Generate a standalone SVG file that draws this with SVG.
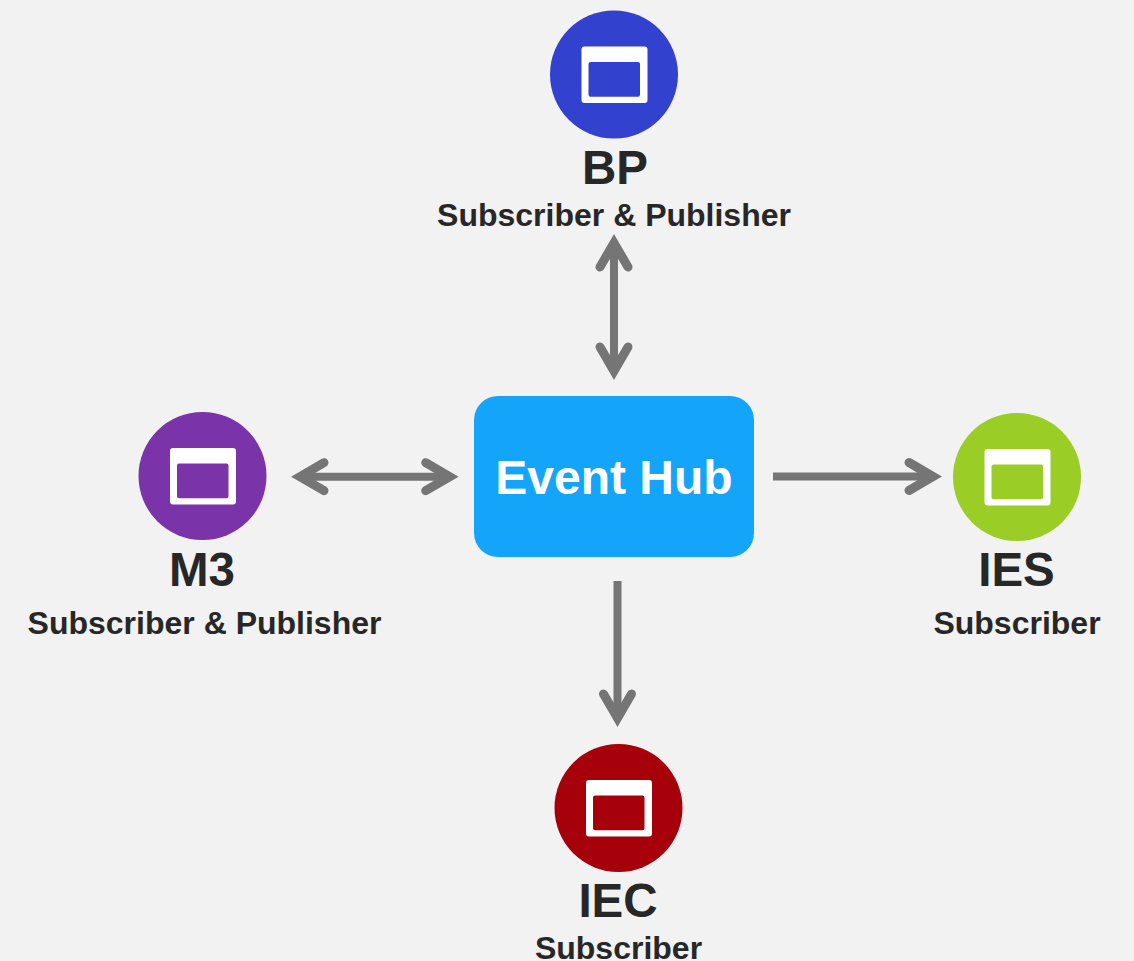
<svg xmlns="http://www.w3.org/2000/svg" width="1134" height="961" viewBox="0 0 1134 961">
<style>
text{font-family:"Liberation Sans",Arial,sans-serif;font-weight:700;text-anchor:middle;fill:#272727}
.t{font-size:47.500px}
.h{font-size:48px}
.s{font-size:32px}
.w{fill:#fff}
.c{fill:none;stroke:#757575;stroke-width:8;stroke-linejoin:miter}
</style>
<defs>
<marker id="head" markerUnits="userSpaceOnUse" markerWidth="50" markerHeight="50" refX="30" refY="25" orient="auto-start-reverse" overflow="visible">
<path d="M6,11 L30,25 L6,39" fill="none" stroke="#757575" stroke-width="9" stroke-linecap="round" stroke-miterlimit="10"/>
</marker>
<g id="icon">
<path fill-rule="evenodd" fill="#fff" d="M-29.500,-28h60a3,3 0 0 1 3,3v50.500a3,3 0 0 1-3,3h-60a3,3 0 0 1-3-3v-50.500a3,3 0 0 1 3-3zM-23.500,-12.500a2,2 0 0 0-2,2v30.700a2,2 0 0 0 2,2h47.500a2,2 0 0 0 2-2v-30.700a2,2 0 0 0-2-2z"/>
</g>
</defs>
<rect width="1134" height="961" fill="#f2f2f2"/>
<g id="connectors">
<path class="c" d="M614,243V371" marker-start="url(#head)" marker-end="url(#head)"/>
<path class="c" d="M300,476.700H449.700" marker-start="url(#head)" marker-end="url(#head)"/>
<path class="c" d="M773,476.500H933" marker-end="url(#head)"/>
<path class="c" d="M617.500,581V718" marker-end="url(#head)"/>
</g>
<g id="hub">
<rect x="474" y="396" width="280" height="161" rx="24" fill="#14a5fa"/>
<text class="h w" x="614" y="494">Event Hub</text>
</g>
<g id="bp">
<circle cx="614" cy="74.500" r="64" fill="#3341cf"/>
<use href="#icon" x="614" y="74.500"/>
<text class="t" x="615" y="184">BP</text>
<text class="s" x="614" y="226">Subscriber &amp; Publisher</text>
</g>
<g id="m3">
<circle cx="202.500" cy="476" r="64" fill="#7a33a8"/>
<use href="#icon" x="202.500" y="476"/>
<text class="t" x="202" y="586">M3</text>
<text class="s" x="204.500" y="634">Subscriber &amp; Publisher</text>
</g>
<g id="ies">
<circle cx="1017" cy="477" r="64" fill="#9acd26"/>
<use href="#icon" x="1017" y="477"/>
<text class="t" x="1016.500" y="586">IES</text>
<text class="s" x="1017" y="634">Subscriber</text>
</g>
<g id="iec">
<circle cx="618.500" cy="808" r="64" fill="#a6000a"/>
<use href="#icon" x="618.500" y="808"/>
<text class="t" x="618" y="917">IEC</text>
<text class="s" x="618.500" y="959">Subscriber</text>
</g>
</svg>
